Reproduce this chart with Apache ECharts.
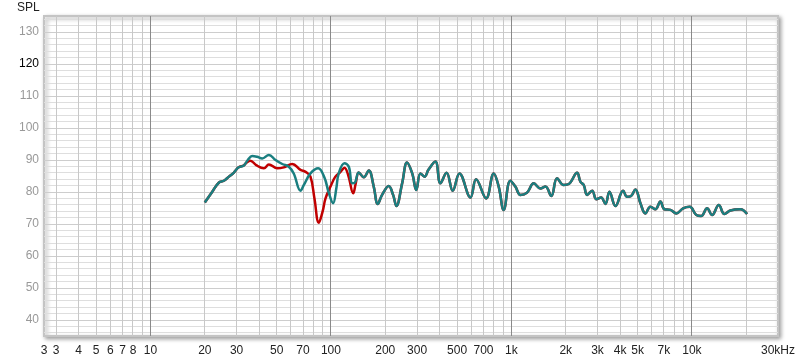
<!DOCTYPE html>
<html>
<head>
<meta charset="utf-8">
<script src="https://cdn.jsdelivr.net/npm/echarts@6/dist/echarts.min.js"></script>
<style>html,body{margin:0;padding:0;background:#fff}#c{width:800px;height:360px}</style>
</head>
<body>
<div id="c"></div>
<script>
// ---- data ----
const sharedLowF = [20, 22, 23.9, 25.5, 27.2, 28.9, 30.8, 32.9];
const sharedLowV = [76.7, 80.1, 82.9, 83.5, 84.8, 86.0, 87.7, 88.3];

const tealMidF = [34.6, 36.6, 39, 41.6, 45.3, 49.3, 53.7, 58.4, 62.2, 67.8, 70.8, 77, 85, 92, 97, 102.8, 107, 110.4, 118.8, 125.6, 131, 136];
const tealMidV = [90.0, 91.25, 91.0, 90.5, 91.6, 90.0, 88.75, 87.9, 85.8, 80.4, 82.2, 85.8, 87.4, 84.5, 80.0, 76.5, 81.0, 85.8, 89.0, 87.9, 82.7, 83.0];

const redMidF = [33.8, 35.8, 38.5, 42.5, 45.3, 50.4, 54.8, 61, 67.8, 72.3, 77, 81, 85.6, 90, 93.3, 100, 105.8, 113, 118.8, 125, 132.8, 137];
const redMidV = [89.0, 89.8, 88.4, 87.4, 88.6, 87.4, 87.7, 88.75, 86.9, 86.3, 84.8, 78.0, 70.4, 74.0, 78.0, 82.0, 84.8, 86.3, 87.6, 85.0, 79.6, 82.5];

const sharedHighF = [142.6, 152, 162, 172.6, 181.6, 192, 209, 221, 230.5, 248, 264, 282, 297, 313, 330, 347.5, 379, 404, 437, 473, 515, 593, 637, 724, 798, 850, 906, 986, 1051, 1122, 1221, 1330, 1448, 1543, 1664, 1790, 1946, 2080, 2312, 2411, 2516, 2626, 2800, 2958, 3140, 3318, 3492, 3770, 4158, 4375, 4603, 4864, 5185, 5525, 5888, 6276, 6690, 7040, 7600, 8200, 8940, 9730, 10590, 11240, 12140, 12940, 14090, 15140, 16340, 18560, 20220];
const sharedHighV = [86.1, 84.6, 86.7, 81.7, 76.25, 79.1, 81.9, 79.1, 75.6, 82.7, 89.2, 85.8, 80.6, 85.8, 84.8, 87.0, 89.5, 82.7, 86.0, 80.4, 85.8, 78.3, 84.0, 78.0, 85.8, 81.7, 74.4, 83.5, 81.7, 79.1, 79.8, 82.7, 81.1, 81.7, 78.75, 84.3, 82.2, 82.5, 86.0, 83.2, 82.2, 79.1, 80.4, 77.7, 78.3, 76.25, 80.1, 75.6, 80.4, 78.5, 78.75, 80.8, 76.5, 73.3, 75.4, 74.6, 77.0, 74.6, 74.4, 73.3, 74.9, 75.4, 72.8, 72.5, 74.9, 72.8, 75.9, 73.1, 74.2, 74.6, 73.1];

const xMin = 2.57, xMax = 30000, yMin = 35, yMax = 135;
const tickFreqs = [2.57, 3, 4, 5, 6, 7, 8, 10, 20, 30, 50, 70, 100, 200, 300, 500, 700, 1000, 2000, 3000, 4000, 5000, 7000, 10000, 30000];
const tickTexts = ['3', '3', '4', '5', '6', '7', '8', '10', '20', '30', '50', '70', '100', '200', '300', '500', '700', '1k', '2k', '3k', '4k', '5k', '7k', '10k', '30kHz'];
const yTicks = [40, 50, 60, 70, 80, 90, 100, 110, 120, 130];
const gridFreqs = [3,4,5,6,7,8,9,10,20,30,40,50,60,70,80,90,100,200,300,400,500,600,700,800,900,1000,2000,3000,4000,5000,6000,7000,8000,9000,10000,20000];
const decadeFreqs = [10, 100, 1000, 10000];
const gridLevels = [];
for (let v = 36; v <= 134; v += 2) gridLevels.push(v);

function pairs(f, v) { return f.map((x, i) => [x, v[i]]); }
const tealData = pairs(sharedLowF, sharedLowV).concat(pairs(tealMidF, tealMidV), pairs(sharedHighF, sharedHighV));
const redData = pairs(sharedLowF, sharedLowV).concat(pairs(redMidF, redMidV), pairs(sharedHighF, sharedHighV));

function crisp(x) { return Math.round(x - 0.5) + 0.5; }

const chart = echarts.init(document.getElementById('c'), null, { renderer: 'canvas' });
chart.setOption({
  animation: false,
  backgroundColor: '#fff',
  textStyle: { fontFamily: 'Liberation Sans, Arial, sans-serif' },
  title: { text: 'SPL', left: 17, top: 2, padding: 0, textStyle: { fontSize: 12, fontWeight: 'normal', color: '#222', fontFamily: 'Liberation Sans, Arial, sans-serif' } },
  grid: {
    left: 44, right: 22, top: 16, bottom: 24,
    show: true, backgroundColor: '#fff',
    borderColor: '#c4c4c4', borderWidth: 2,
    shadowColor: 'rgba(0,0,0,0.35)', shadowBlur: 4, shadowOffsetX: 2, shadowOffsetY: 2
  },
  xAxis: {
    type: 'log', logBase: 10, min: xMin, max: xMax,
    axisLine: { show: false }, axisTick: { show: false }, splitLine: { show: false },
    axisLabel: {
      customValues: tickFreqs,
      formatter: function (val) {
        let best = 0, bd = Infinity;
        tickFreqs.forEach((f, i) => { const d = Math.abs(Math.log10(f) - Math.log10(val)); if (d < bd) { bd = d; best = i; } });
        return tickTexts[best];
      },
      color: '#222', fontSize: 12, margin: 9, hideOverlap: false
    }
  },
  yAxis: {
    type: 'value', min: yMin, max: yMax,
    axisLine: { show: false }, axisTick: { show: false }, splitLine: { show: false },
    axisLabel: {
      customValues: yTicks,
      color: function (v) { return Number(v) === 120 ? '#000' : '#999'; },
      fontSize: 12, margin: 5
    }
  },
  series: [
    {
      type: 'custom', coordinateSystem: 'cartesian2d', silent: true, z: 1,
      data: gridLevels.map(v => [xMin, v]),
      encode: { x: 0, y: 1 },
      renderItem: function (params, api) {
        const v = api.value(1);
        const p1 = api.coord([xMin, v]), p2 = api.coord([xMax, v]);
        const y = crisp(p1[1]);
        return { type: 'line', shape: { x1: p1[0], y1: y, x2: p2[0], y2: y },
          style: { stroke: v % 10 === 0 ? '#cdcdcd' : '#dedede', lineWidth: 1 } };
      }
    },
    {
      type: 'custom', coordinateSystem: 'cartesian2d', silent: true, z: 1,
      data: gridFreqs.map(f => [f, yMin]),
      encode: { x: 0, y: 1 },
      renderItem: function (params, api) {
        const f = api.value(0);
        const p1 = api.coord([f, yMin]), p2 = api.coord([f, yMax]);
        const x = crisp(p1[0]);
        return { type: 'line', shape: { x1: x, y1: p1[1], x2: x, y2: p2[1] },
          style: { stroke: decadeFreqs.includes(f) ? '#8a8a8a' : '#c8c8c8', lineWidth: 1 } };
      }
    },
    {
      type: 'line', name: 'red', data: redData, smooth: 0.4, symbol: 'none', z: 3,
      lineStyle: { color: '#c00000', width: 2.5 }
    },
    {
      type: 'line', name: 'teal', data: tealData, smooth: 0.4, symbol: 'none', z: 4,
      lineStyle: { color: '#1a7f80', width: 2.5 }
    }
  ]
});
</script>
</body>
</html>
